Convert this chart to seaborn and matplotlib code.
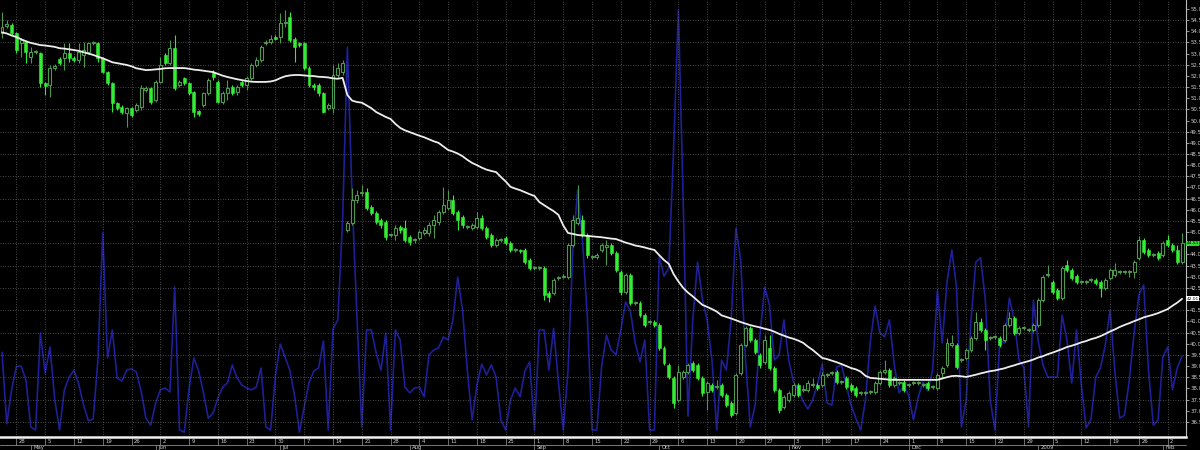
import numpy as np
import pandas as pd
import matplotlib
matplotlib.use("Agg")
import matplotlib.pyplot as plt
import matplotlib.transforms as mtransforms
from matplotlib.lines import Line2D
import seaborn as sns

# ---------------- data ----------------
start_date = "2008-04-24"
session_days = "Sun Mon Tue Wed Thu Fri"

opens = [
    53.92, 54.24, 54.28, 53.92, 53.47, 53.52, 52.85, 53.07, 53.03,
    51.68, 51.59, 52.35, 52.76, 52.80, 53.03, 52.80, 52.71, 52.94,
    53.07, 53.47, 53.47, 52.80, 52.17, 51.68, 50.79, 50.61, 50.34, 50.56,
    50.47, 50.61, 51.37, 51.46, 50.92, 51.73, 52.94, 52.58, 53.25, 51.59,
    51.91, 51.68, 51.28, 50.43, 50.70, 51.23, 52.17, 51.73, 50.83, 51.23,
    51.50, 51.28, 51.73, 51.59, 51.91, 52.49, 52.71, 53.47, 53.52, 53.74,
    53.74, 54.37, 54.64, 53.65, 53.47, 53.47, 52.35, 51.59, 51.59,
    51.23, 50.56, 50.56, 52.04, 52.17,
    45.10, 45.41, 46.44, 46.75, 46.80, 46.13, 45.86, 45.54, 45.45, 44.87,
    44.87, 45.23, 45.19, 44.78, 44.65, 44.74, 44.96, 44.96, 45.32, 45.45,
    45.90, 46.08, 46.44, 45.90, 45.68, 45.23,
    45.19, 45.23, 45.63, 45.19, 44.87, 44.42, 44.65, 44.74, 44.51, 44.20,
    44.20, 44.20, 43.75, 43.39, 43.39, 43.39, 42.27, 42.27, 42.95,
    42.99, 42.99, 44.42, 45.41, 45.54, 44.87, 43.89, 43.89, 44.20,
    44.33, 44.42, 44.07, 43.21, 42.32, 43.08, 41.83, 41.83, 41.29, 40.97,
    40.97, 40.84, 39.81, 39.05, 38.47, 37.48, 38.51, 38.73, 39.14, 39.05,
    38.47, 37.84,
    38.15, 38.06, 38.15, 37.70, 37.35, 36.90, 38.69, 39.94, 40.71,
    40.17, 39.50, 39.18, 39.81, 38.91, 37.93, 37.17, 37.48, 37.70, 38.15,
    37.93, 37.93, 38.15, 38.15, 38.15, 38.60, 38.69, 38.73, 38.29, 38.47,
    38.15, 38.02, 37.79, 37.79, 37.84, 37.84, 38.24, 38.73, 38.82,
    38.15, 38.24, 38.29, 38.15, 38.24, 38.24, 38.15, 38.24, 38.06,
    38.02,
    38.69, 39.05, 39.94, 39.94, 39.27, 39.36, 39.72, 40.26, 40.97,
    40.62, 40.26, 40.30, 40.26, 40.17, 40.84, 41.15, 40.48, 40.71, 40.62,
    40.62, 40.84, 41.96, 43.08, 42.77, 42.41, 42.05, 43.53, 43.30, 43.04,
    42.77, 42.77, 42.86, 42.86, 42.77, 42.50, 42.95, 43.08, 43.21, 43.21,
    43.21, 43.21, 43.84, 44.65, 44.20, 43.98, 44.07, 43.98, 44.65, 44.42,
    44.20, 43.66,
]

highs = [
    54.86, 54.50, 54.37, 53.97, 53.70, 53.61, 53.29, 53.16, 53.07,
    51.73, 52.49, 52.53, 52.85, 53.47, 53.47, 52.89, 53.47, 53.52,
    53.52, 53.56, 53.52, 52.85, 52.22, 51.73, 50.83, 50.70, 50.61, 50.61,
    50.79, 51.59, 51.55, 51.50, 51.82, 52.85, 53.03, 53.61, 53.83, 51.82,
    51.95, 51.73, 51.32, 50.47, 51.28, 51.91, 52.26, 51.82, 51.32, 51.82,
    51.59, 51.59, 51.82, 51.99, 52.58, 52.85, 53.38, 53.61, 53.83, 53.83,
    54.82, 54.95, 54.86, 53.74, 53.52, 53.52, 52.44, 51.68, 51.68,
    51.28, 50.79, 52.49, 52.58, 52.71,
    45.50, 46.98, 46.89, 47.11, 46.98, 46.22, 45.95, 45.63, 45.54, 44.96,
    45.32, 45.32, 45.54, 44.87, 44.74, 45.10, 45.23, 45.45, 45.77, 45.99,
    47.02, 46.89, 46.66, 45.99, 45.77, 45.32,
    45.41, 45.90, 45.77, 45.28, 44.96, 44.74, 44.74, 44.83, 44.60, 44.29,
    44.24, 44.29, 43.84, 43.48, 43.48, 43.48, 42.36, 42.95, 43.04,
    43.12, 44.51, 45.77, 47.11, 45.77, 44.96, 43.98, 44.07, 44.51,
    44.65, 44.51, 44.16, 43.30, 43.17, 43.17, 41.92, 41.92, 41.38, 41.06,
    41.06, 40.93, 39.90, 39.14, 38.56, 39.05, 38.82, 39.14, 39.23, 39.14,
    38.56, 38.33,
    38.24, 38.38, 38.24, 37.79, 37.44, 38.69, 40.03, 40.80, 40.80,
    40.26, 39.59, 40.39, 40.39, 39.00, 38.02, 37.70, 37.88, 38.24, 38.24,
    38.15, 38.38, 38.47, 38.24, 38.73, 38.69, 38.78, 38.82, 38.38, 38.56,
    38.24, 38.11, 37.88, 37.88, 37.93, 38.33, 38.82, 39.27, 38.91,
    38.56, 38.33, 38.38, 38.24, 38.33, 38.33, 38.24, 38.33, 38.15,
    38.69,
    39.00, 40.26, 40.39, 40.03, 39.36, 39.81, 40.35, 41.42, 41.15,
    40.71, 40.35, 40.39, 40.35, 40.93, 41.42, 41.24, 40.80, 40.80, 40.71,
    40.93, 42.05, 43.08, 43.53, 42.86, 42.50, 43.48, 43.75, 43.39, 43.12,
    42.86, 42.86, 42.95, 42.95, 42.86, 42.95, 43.39, 43.62, 43.30, 43.30,
    43.30, 43.75, 44.83, 44.74, 44.29, 44.07, 44.16, 44.60, 44.87, 44.51,
    44.42, 44.96,
]

lows = [
    53.70, 54.15, 53.83, 53.03, 52.85, 52.58, 52.58, 52.98, 51.50,
    51.14, 51.05, 52.26, 52.49, 52.26, 52.62, 52.62, 52.58, 52.40,
    52.98, 53.38, 52.62, 52.13, 51.59, 50.38, 50.47, 50.29, 49.71, 50.16,
    50.38, 50.47, 51.28, 50.74, 50.83, 51.68, 52.49, 52.49, 51.37, 51.50,
    51.59, 51.14, 50.16, 50.20, 50.61, 51.14, 51.82, 50.79, 50.74, 50.92,
    51.14, 51.14, 51.50, 51.37, 51.82, 52.40, 52.62, 53.38, 53.43, 53.61,
    53.47, 54.19, 53.52, 52.62, 53.29, 52.26, 51.50, 51.37, 51.10,
    50.34, 50.47, 50.34, 51.91, 52.04,
    45.01, 45.32, 46.31, 46.62, 45.99, 45.77, 45.36, 45.19, 44.65, 44.78,
    44.65, 44.96, 44.56, 44.42, 44.51, 44.65, 44.87, 44.83, 44.74, 45.32,
    45.81, 45.99, 45.77, 45.10, 45.19, 45.14,
    45.10, 45.14, 45.10, 44.69, 44.33, 44.33, 44.56, 44.42, 44.11, 44.11,
    44.07, 43.57, 43.30, 43.30, 43.30, 41.96, 41.87, 42.18, 42.86,
    42.95, 42.90, 44.33, 45.32, 44.78, 43.84, 43.80, 43.80, 44.11,
    43.53, 43.98, 43.21, 42.18, 42.23, 41.74, 41.74, 41.20, 40.75, 40.88,
    40.75, 39.72, 39.05, 38.42, 37.12, 37.39, 38.42, 38.64, 38.73, 38.38,
    37.66, 37.03,
    37.84, 37.97, 37.61, 37.17, 36.72, 36.81, 38.60, 39.85, 40.08,
    39.54, 38.91, 39.09, 38.82, 37.84, 36.90, 37.08, 37.39, 37.61, 37.61,
    37.84, 37.84, 38.06, 37.93, 38.06, 38.51, 38.60, 38.20, 38.20, 37.97,
    37.84, 37.61, 37.70, 37.70, 37.75, 37.75, 38.15, 38.64, 38.06,
    38.06, 38.15, 37.84, 38.06, 38.15, 38.15, 38.06, 37.93, 37.97,
    37.93,
    38.47, 38.96, 39.85, 38.87, 39.18, 39.27, 39.63, 40.17, 40.53,
    39.72, 40.17, 40.21, 39.85, 40.08, 40.75, 40.39, 40.39, 40.62, 40.53,
    40.53, 40.75, 41.87, 42.99, 42.23, 41.96, 41.96, 43.21, 42.86, 42.68,
    42.68, 42.68, 42.77, 42.63, 42.09, 42.41, 42.86, 42.99, 43.12, 43.12,
    42.99, 42.95, 43.75, 44.02, 43.89, 43.89, 43.75, 43.89, 44.33, 44.11,
    43.57, 43.57,
]

closes = [
    54.19, 54.32, 53.92, 53.16, 53.61, 53.07, 53.07, 53.07, 51.68,
    51.55, 52.35, 52.44, 52.58, 53.03, 52.80, 52.71, 53.07, 53.16,
    53.47, 53.47, 52.80, 52.17, 51.68, 50.79, 50.56, 50.38, 50.56, 50.25,
    50.70, 51.46, 51.46, 50.83, 51.73, 52.49, 52.58, 53.25, 51.46, 51.73,
    51.68, 51.23, 50.38, 50.29, 51.23, 51.82, 51.95, 50.83, 51.23, 51.46,
    51.23, 51.50, 51.59, 51.91, 52.49, 52.71, 53.29, 53.52, 53.65, 53.65,
    54.37, 54.41, 53.61, 53.29, 53.38, 52.35, 51.59, 51.50, 51.23,
    50.38, 50.70, 52.04, 52.35, 52.58,
    45.41, 46.44, 46.66, 46.75, 46.08, 45.86, 45.45, 45.32, 44.78, 44.87,
    45.19, 45.10, 44.65, 44.56, 44.65, 45.01, 45.10, 45.32, 45.54, 45.90,
    46.22, 46.44, 45.86, 45.54, 45.32, 45.23,
    45.32, 45.63, 45.19, 44.78, 44.42, 44.65, 44.65, 44.51, 44.20, 44.20,
    44.16, 43.66, 43.39, 43.39, 43.39, 42.18, 42.09, 42.86, 42.95,
    43.04, 44.42, 45.54, 45.63, 44.87, 43.98, 43.89, 43.98, 44.42,
    44.42, 44.07, 43.30, 42.32, 43.08, 41.83, 41.83, 41.29, 40.84, 40.97,
    40.84, 39.81, 39.14, 38.51, 37.35, 38.73, 38.73, 39.05, 38.82, 38.47,
    37.79, 38.24,
    37.93, 38.06, 37.70, 37.26, 36.81, 38.60, 39.94, 40.71, 40.17,
    39.63, 39.05, 40.17, 38.91, 37.93, 37.03, 37.61, 37.79, 38.15, 37.70,
    37.93, 38.24, 38.15, 38.02, 38.60, 38.60, 38.69, 38.29, 38.29, 38.06,
    37.93, 37.70, 37.79, 37.79, 37.84, 38.24, 38.73, 38.82, 38.15,
    38.47, 38.24, 37.93, 38.15, 38.24, 38.24, 38.15, 38.02, 38.06,
    38.60,
    38.91, 40.03, 40.03, 38.96, 39.27, 39.72, 40.26, 40.97, 40.62,
    40.17, 40.26, 40.30, 39.94, 40.84, 41.15, 40.48, 40.71, 40.71, 40.62,
    40.84, 41.96, 42.99, 43.08, 42.32, 42.05, 43.39, 43.30, 42.95, 42.77,
    42.77, 42.77, 42.86, 42.72, 42.50, 42.86, 43.30, 43.30, 43.21, 43.21,
    43.21, 43.66, 44.65, 44.11, 43.98, 43.98, 43.84, 44.51, 44.42, 44.20,
    43.66, 44.51,
]

moving_average = [
    53.95, 53.90, 53.81, 53.74, 53.64, 53.55, 53.48, 53.43, 53.38,
    53.36, 53.33, 53.30, 53.24, 53.22, 53.19, 53.16, 53.12, 53.06,
    53.00, 52.94, 52.86, 52.79, 52.70, 52.61, 52.57, 52.53, 52.49, 52.43,
    52.34, 52.30, 52.26, 52.27, 52.29, 52.31, 52.34, 52.35, 52.35, 52.35,
    52.35, 52.32, 52.28, 52.26, 52.23, 52.20, 52.17, 52.09, 52.01, 51.95,
    51.90, 51.85, 51.81, 51.77, 51.74, 51.73, 51.73, 51.73, 51.75, 51.80,
    51.90, 51.98, 52.02, 52.04, 52.04, 52.02, 52.00, 51.99, 51.96,
    51.95, 51.93, 51.89, 51.87, 51.91,
    51.14, 50.89, 50.83, 50.80, 50.68, 50.55, 50.38, 50.27, 50.16, 50.07,
    49.85, 49.67, 49.56, 49.48, 49.40, 49.32, 49.25, 49.16, 49.07, 49.00,
    48.84, 48.68, 48.61, 48.52, 48.40, 48.24,
    48.10, 48.00, 47.89, 47.80, 47.74, 47.69, 47.47, 47.27, 47.03, 46.95,
    46.88, 46.79, 46.70, 46.62, 46.35, 46.21, 46.07, 45.94, 45.77,
    45.30, 44.96, 44.92, 44.87, 44.85, 44.83, 44.81, 44.79, 44.77,
    44.74, 44.71, 44.69, 44.61, 44.53, 44.47, 44.40, 44.36, 44.31, 44.25,
    44.20, 43.97, 43.75, 43.58, 43.12, 42.79, 42.50, 42.29, 42.12, 41.93,
    41.74, 41.65,
    41.55, 41.44, 41.27, 41.20, 41.13, 41.05, 40.97, 40.90, 40.83,
    40.78, 40.73, 40.67, 40.62, 40.54, 40.44, 40.36, 40.28, 40.22, 40.14,
    40.04, 39.87, 39.72, 39.54, 39.36, 39.31, 39.24, 39.17, 39.09, 39.00,
    38.91, 38.85, 38.75, 38.56, 38.47, 38.45, 38.43, 38.41, 38.39,
    38.38, 38.38, 38.38, 38.38, 38.38, 38.38, 38.38, 38.38, 38.38,
    38.38,
    38.44, 38.50, 38.55, 38.56, 38.54, 38.51, 38.56, 38.61, 38.67,
    38.72, 38.77, 38.80, 38.85, 38.90, 38.97, 39.03, 39.10, 39.16, 39.22,
    39.29, 39.38, 39.44, 39.53, 39.60, 39.68, 39.76, 39.85, 39.91, 39.98,
    40.06, 40.12, 40.20, 40.26, 40.34, 40.44, 40.55, 40.64, 40.75, 40.84,
    40.92, 41.01, 41.09, 41.18, 41.24, 41.30, 41.37, 41.46, 41.55, 41.70,
    41.84, 42.01,
]

indicator = [
    19.4, 3.0, 10.8, 16.2, 16.2, 13.0, 2.3, 1.6, 23.8,
    14.6, 20.6, 8.5, 1.6, 10.8, 13.7, 15.3, 12.1, 7.3,
    3.7, 4.1, 17.6, 46.7, 18.1, 24.5, 13.5, 12.8, 15.3, 15.6,
    14.9, 10.5, 4.3, 2.7, 7.6, 10.8, 11.2, 10.3, 34.3, 1.6,
    1.1, 11.2, 18.1, 15.1, 10.1, 4.3, 5.5, 8.9, 11.4, 12.4,
    16.5, 13.5, 11.9, 11.2, 10.8, 11.4, 15.8, 2.3, 1.6, 14.0,
    21.3, 18.3, 15.3, 9.4, 1.1, 6.9, 12.4, 15.1, 15.8,
    22.0, 1.6, 24.7, 26.8, 49.6,
    89.2, 54.2, 27.5, 2.3, 24.5, 24.5, 19.2, 15.3, 23.8, 1.6,
    24.5, 22.2, 11.4, 10.1, 11.2, 11.4, 9.2, 18.8, 19.9, 20.4,
    22.9, 22.2, 26.8, 36.6, 29.1, 15.3,
    3.9, 11.9, 16.7, 14.2, 16.5, 13.7, 3.9, 1.6, 8.5, 11.2,
    9.2, 15.1, 17.2, 1.6, 24.5, 24.5, 15.3, 24.9, 12.4,
    1.6, 15.3, 42.8, 56.5, 45.1, 27.9, 1.6, 1.6, 16.2,
    23.3, 19.9, 18.8, 24.5, 30.9, 28.8, 21.5, 17.2, 22.2, 1.6,
    1.6, 41.2, 36.8, 38.7, 65.7, 97.7, 54.2, 4.8, 26.8, 40.0,
    31.6, 26.8,
    17.6, 1.6, 17.6, 15.3, 26.8, 47.8, 40.5, 17.6, 2.3,
    7.3, 23.3, 34.3, 30.2, 17.6, 18.8, 26.8, 17.6, 12.6, 10.8,
    8.2, 6.4, 8.5, 12.1, 16.7, 7.8, 7.3, 16.0, 16.5, 11.9,
    7.3, 4.3, 1.6, 8.5, 21.7, 30.0, 23.8, 22.9, 26.8,
    16.5, 10.1, 11.7, 9.6, 3.9, 9.2, 12.6, 10.5, 15.3,
    33.6,
    21.5, 35.5, 42.8, 34.1, 2.3, 8.5, 26.8, 40.0, 41.0,
    31.3, 8.5, 1.6, 22.2, 21.5, 31.8, 26.8, 17.6, 16.0, 2.3,
    31.3, 22.0, 16.5, 13.7, 13.7, 13.7, 27.9, 22.2, 12.4, 24.5,
    11.9, 2.1, 3.9, 13.7, 15.8, 21.1, 29.1, 14.9, 4.3, 5.0,
    13.0, 23.8, 32.5, 34.8, 15.3, 2.7, 3.9, 18.3, 20.6, 10.8,
    15.8, 18.5,
]

price_ticks = [36.5, 37.0, 37.5, 38.0, 38.5, 39.0, 39.5, 40.0, 40.5, 41.0,
               41.5, 42.0, 42.5, 43.0, 43.5, 44.0, 44.5, 45.0, 45.5, 46.0,
               46.5, 47.0, 47.5, 48.0, 48.5, 49.0, 49.5, 50.0, 50.5, 51.0,
               51.5, 52.0, 52.5, 53.0, 53.5, 54.0, 54.5, 55.0]

# ---------------- figure ----------------
n = len(closes)
assert all(len(a) == n for a in (opens, highs, lows, moving_average, indicator)), \
    [len(a) for a in (opens, highs, lows, closes, moving_average, indicator)]

sns.set_theme(style="dark")
plt.rcParams["font.family"] = ["DejaVu Sans"]

BG = "black"
BRIGHT = "#34ec34"
DIM = "#4e984e"
GRID = "#5e5e5e"
TXT = "#cfcfcf"

fig = plt.figure(figsize=(12, 4.5), dpi=100, facecolor=BG)
ax = fig.add_axes([0.0, 13 / 450, 1186 / 1200, 437 / 450])
ax2 = ax.twinx()
ax.set_zorder(2)
ax2.set_zorder(1)
ax.patch.set_visible(False)
ax2.set_facecolor(BG)

x = np.arange(n)
o = np.asarray(opens)
h = np.asarray(highs)
l = np.asarray(lows)
c = np.asarray(closes)

dates = pd.date_range(start_date, periods=n,
                      freq=pd.offsets.CustomBusinessDay(weekmask=session_days))

# indicator on its own scale (behind the price)
sns.lineplot(x=x, y=np.asarray(indicator), ax=ax2, color="#1f1f98",
             linewidth=1.2, legend=False)
ax2.set_ylim(0, 100)
ax2.set_yticks([])
ax2.set_ylabel("")
for s in ax2.spines.values():
    s.set_visible(False)

# grid
for lev in np.arange(36.5, 55.01, 1.0):
    ax.axhline(lev, color=GRID, lw=0.6, ls=(0, (1, 2)), zorder=0.5)

week_pos = np.where(dates.dayofweek == 0)[0]
for p in week_pos:
    ax.axvline(p, color=GRID, lw=0.6, ls=(0, (1, 2)), zorder=0.5)

# candles
bear = c < o
bull = ~bear
ax.vlines(x[bear], l[bear], h[bear], color=BRIGHT, lw=0.8, zorder=3)
ax.vlines(x[bull], l[bull], h[bull], color=DIM, lw=0.8, zorder=3)
bw = 0.62
ax.bar(x[bear], np.maximum(o - c, 0.04)[bear], bottom=c[bear], width=bw,
       color=BRIGHT, edgecolor=BRIGHT, linewidth=0.4, zorder=4)
ax.bar(x[bull], np.maximum(c - o, 0.04)[bull], bottom=o[bull], width=bw,
       facecolor=BG, edgecolor=DIM, linewidth=0.8, zorder=4)

# moving average
sns.lineplot(x=x, y=np.asarray(moving_average), ax=ax, color="#ededed",
             linewidth=1.3, legend=False, zorder=5)

ax.set_xlim(-0.417, 246.82)
ax.set_ylim(35.82, 55.40)
ax.set_xlabel("")
ax.set_ylabel("")
ax.grid(False)
ax2.grid(False)

# right price axis
ax.yaxis.tick_right()
ax.set_yticks(price_ticks)
ax.set_yticklabels([f"{v:.1f}" for v in price_ticks])
ax.tick_params(axis="y", labelsize=3.9, colors=TXT, length=2, width=0.5,
               pad=1, direction="out")
ax.set_xticks([])

for side in ("left", "top"):
    ax.spines[side].set_visible(False)
ax.spines["right"].set_color("#bdbdbd")
ax.spines["right"].set_linewidth(0.8)
ax.spines["bottom"].set_color("#f0f0f0")
ax.spines["bottom"].set_linewidth(1.8)

# date axis (two rows)
trans = mtransforms.blended_transform_factory(ax.transData, ax.transAxes)
ax.add_line(Line2D([0, 1], [-0.0185, -0.0185], transform=ax.transAxes,
                   color="#8a8a8a", lw=0.6, clip_on=False))
for p in week_pos:
    ax.add_line(Line2D([p, p], [0, -0.0185], transform=trans, color="#9a9a9a",
                       lw=0.5, clip_on=False))
    ax.text(p + 0.5, -0.0095, str(dates[p].day), transform=trans,
            fontsize=3.8, color=TXT, ha="left", va="center", clip_on=False)

month_pos = [i for i in range(1, n) if dates[i].month != dates[i - 1].month]
for p in month_pos:
    lab = str(dates[p].year) if dates[p].month == 1 else dates[p].strftime("%b")
    ax.add_line(Line2D([p, p], [-0.0185, -0.035], transform=trans,
                       color="#9a9a9a", lw=0.5, clip_on=False))
    ax.text(p + 0.5, -0.0245, lab, transform=trans, fontsize=3.8, color=TXT,
            ha="left", va="center", clip_on=False)

# price boxes at right
ptrans = mtransforms.blended_transform_factory(ax.transAxes, ax.transData)
ax.text(1.0005, closes[-1], f"{closes[-1]:.2f}", transform=ptrans, fontsize=3.1,
        color="black", ha="left", va="center", clip_on=False, zorder=10,
        bbox=dict(boxstyle="square,pad=0.12", fc="#30d830", ec="none"))
ax.text(1.0005, moving_average[-1], f"{moving_average[-1]:.2f}", transform=ptrans,
        fontsize=3.1, color="black", ha="left", va="center", clip_on=False,
        zorder=10, bbox=dict(boxstyle="square,pad=0.12", fc="white", ec="none"))

fig.savefig("out.png", dpi=100, facecolor=BG)
